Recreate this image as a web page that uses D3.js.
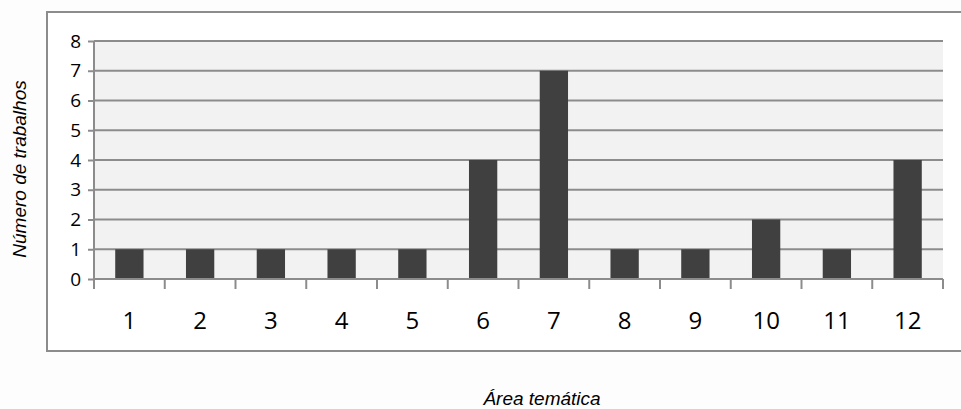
<!DOCTYPE html>
<html><head><meta charset="utf-8">
<script src="https://cdn.jsdelivr.net/npm/d3@7"></script>
<style>body{margin:0;background:#fdfdfd;}svg{display:block;}</style>
</head><body>
<svg id="c" width="961" height="409"></svg>
<script>
const categories = ["1","2","3","4","5","6","7","8","9","10","11","12"];
const values = [1,1,1,1,1,4,7,1,1,2,1,4];
const yTicks = [0,1,2,3,4,5,6,7,8];
const yTitle = "Número de trabalhos";
const xTitle = "Área temática";

const svg = d3.select("#c");
const m = {left:94, right:943, top:41, bottom:279};

svg.append("rect").attr("x",47).attr("y",12).attr("width",920).attr("height",339)
  .attr("fill","#fff").attr("stroke","#8c8c8c").attr("stroke-width",2);

const x = d3.scaleBand().domain(categories).range([m.left,m.right]).paddingInner(0.6).paddingOuter(0.3);
const xb = d3.scaleBand().domain(categories).range([m.left,m.right]);
const y = d3.scaleLinear().domain([0,8]).range([m.bottom,m.top]);

svg.append("rect").attr("x",m.left).attr("y",m.top).attr("width",m.right-m.left).attr("height",m.bottom-m.top).attr("fill","#f2f2f2");

// gridlines
svg.append("g").selectAll("line").data(yTicks.filter(d=>d>0)).join("line")
  .attr("x1",m.left).attr("x2",m.right).attr("y1",d=>y(d)).attr("y2",d=>y(d))
  .attr("stroke","#8c8c8c").attr("stroke-width",2);

// bars
svg.append("g").selectAll("rect").data(values).join("rect")
  .attr("x",(d,i)=>x(categories[i])).attr("width",x.bandwidth())
  .attr("y",d=>y(d)).attr("height",d=>y(0)-y(d)).attr("fill","#404040");

// y axis
const ya = svg.append("g").attr("transform",`translate(${m.left},0)`)
  .call(d3.axisLeft(y).tickValues(yTicks).tickSize(6).tickPadding(7).tickFormat(d3.format("d")));
ya.selectAll("path,line").attr("stroke","#8c8c8c").attr("stroke-width",2);
ya.select("path").attr("d",`M0,${m.top}V${m.bottom}`);
ya.selectAll("text").attr("font-family","Open Sans").attr("font-size",19).attr("fill","#000");

// x axis
const xa = svg.append("g").attr("transform",`translate(0,${m.bottom})`)
  .call(d3.axisBottom(xb).tickSize(0).tickPadding(0));
xa.select("path").attr("stroke","#8c8c8c").attr("stroke-width",2).attr("d",`M${m.left},0H${m.right}`);
xa.selectAll("text").attr("font-family","Open Sans").attr("font-size",24).attr("fill","#000")
  .attr("dy",null).attr("y",50);
const bounds = categories.map(c=>xb(c)).concat([m.right]);
xa.append("g").selectAll("line").data(bounds).join("line")
  .attr("x1",d=>d).attr("x2",d=>d).attr("y1",0).attr("y2",10)
  .attr("stroke","#8c8c8c").attr("stroke-width",2);

svg.append("text").attr("transform","translate(26,169) rotate(-90)").attr("text-anchor","middle")
  .attr("font-family","Liberation Sans").attr("font-style","italic").attr("font-size",19).text(yTitle);
svg.append("text").attr("x",542).attr("y",405).attr("text-anchor","middle")
  .attr("font-family","Liberation Sans").attr("font-style","italic").attr("font-size",19).text(xTitle);
</script>
</body></html>
